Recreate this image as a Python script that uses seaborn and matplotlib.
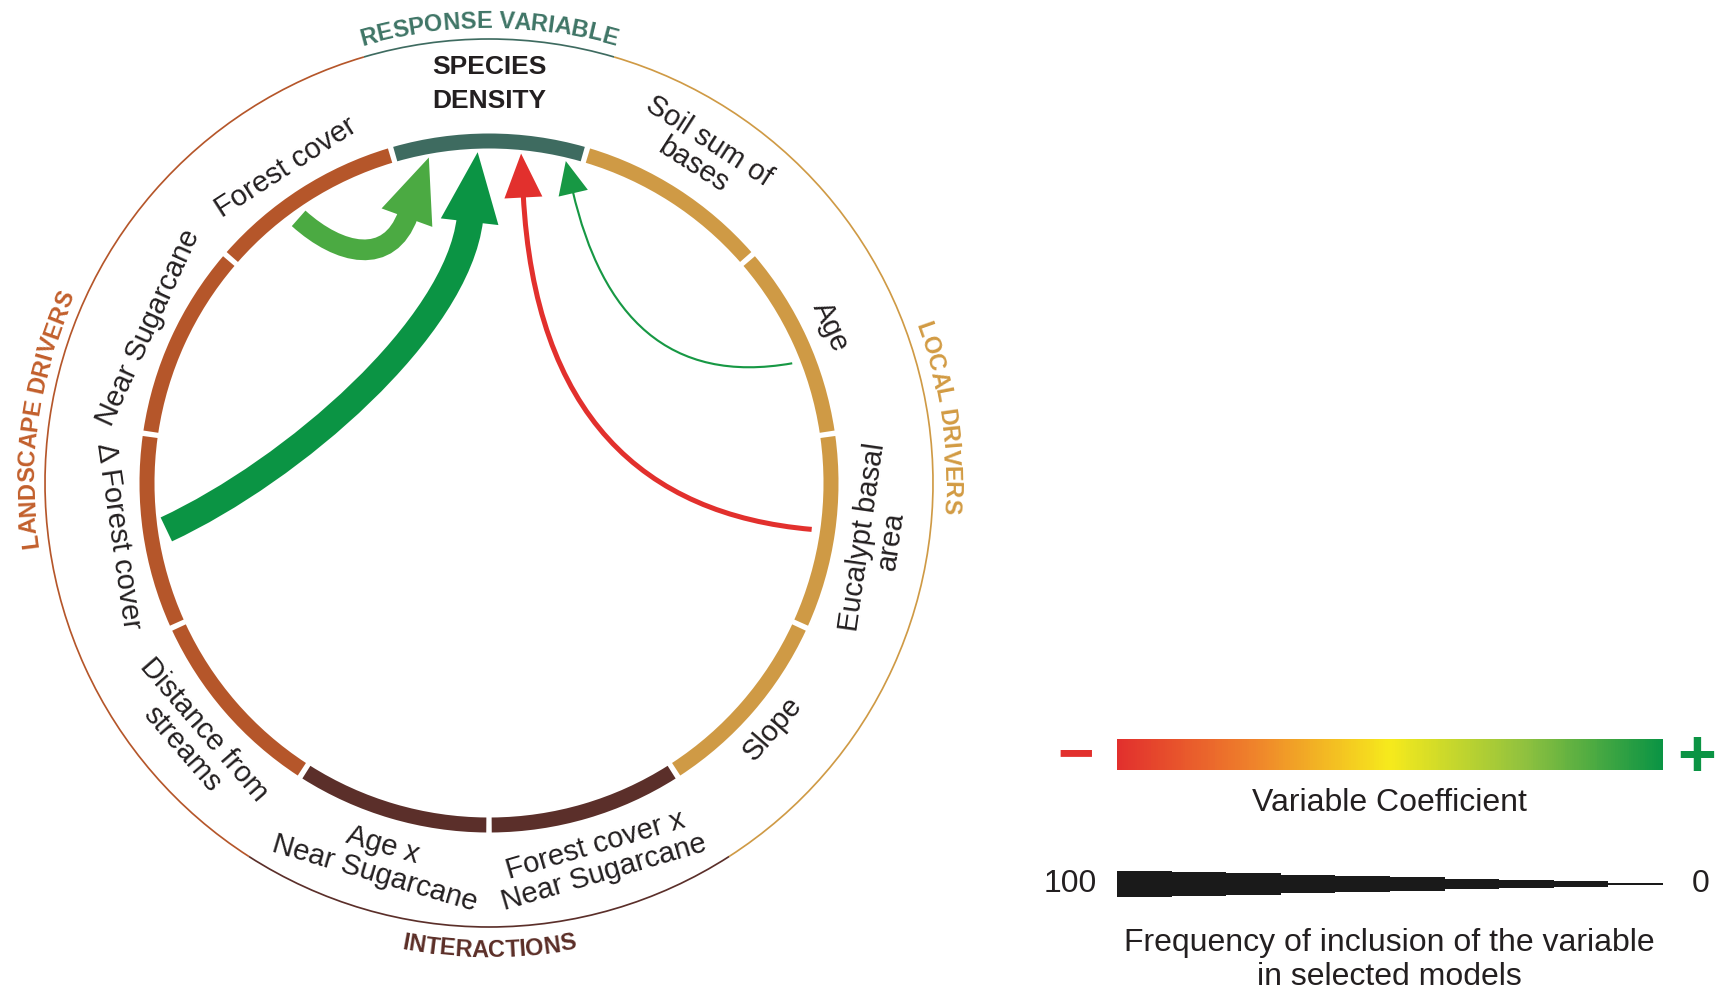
import numpy as np
import matplotlib
matplotlib.use("Agg")
import matplotlib.pyplot as plt
import seaborn as sns
from matplotlib.patches import Wedge, Arc, Polygon, PathPatch
from matplotlib.path import Path
from matplotlib.font_manager import FontProperties
from matplotlib.textpath import TextToPath

# ---------------- data ----------------
variables = ["SPECIES\nDENSITY", "Soil sum of\nbases", "Age", "Eucalypt basal\narea", "Slope",
             "Forest cover x\nNear Sugarcane", "Age x\nNear Sugarcane", "Distance from\nstreams",
             "Δ Forest cover", "Near Sugarcane", "Forest cover"]
var_groups = ["response", "local", "local", "local", "local", "interactions", "interactions",
              "landscape", "landscape", "landscape", "landscape"]
group_names = ["response", "local", "interactions", "landscape"]
group_labels = ["RESPONSE VARIABLE", "LOCAL DRIVERS", "INTERACTIONS", "LANDSCAPE DRIVERS"]

arrow_sources = ["Forest cover", "Δ Forest cover", "Eucalypt basal\narea", "Age"]
arrow_coefficients = [0.75, 1.0, -1.0, 0.95]     # sign / strength of the effect
arrow_frequency = [78, 100, 19, 8]               # % of selected models including the variable

legend_frequency = [100, 90, 80, 70, 60, 50, 40, 30, 20, 10]
legend_coef_key = np.linspace(-1, 1, 240)

# ---------------- styles ----------------
seg_colors = {"response": "#3e6b60", "local": "#cf9a45",
              "interactions": "#5b2f2a", "landscape": "#b5562a"}
group_text_colors = {"response": "#3f7566", "local": "#d29b43",
                     "interactions": "#5b2e27", "landscape": "#c25f2c"}
coef_cmap = sns.blend_palette(["#e2302d", "#ef832b", "#f6ea1c", "#8fc13f", "#0b9444"], as_cmap=True)
TXT = "#231f20"

arrow_style = {
    "Forest cover":        dict(src_off=3.0,  slot=0.18, start_dir=318, end_dir=70,  d0=55,  d3=55,  head_w=54, head_l=64),
    "Δ Forest cover":      dict(src_off=0.0,  slot=0.44, start_dir=25,  end_dir=83.4, d0=140, d3=110, head_w=58, head_l=70),
    "Eucalypt basal\narea": dict(src_off=0.0, slot=0.67, start_dir=175, end_dir=93,  d0=170, d3=220, head_w=38, head_l=44),
    "Age":                 dict(src_off=-3.0, slot=0.91, start_dir=190, end_dir=103, d0=125, d3=130, head_w=30, head_l=33),
}

sns.set_theme(style="white")
plt.rcParams["font.family"] = ["Liberation Sans", "DejaVu Sans"]

W_PX, H_PX, DPI = 1720, 993, 100
CX, CY = 489, 483
PX2PT = 72 / DPI
fig = plt.figure(figsize=(W_PX / DPI, H_PX / DPI), dpi=DPI)
ax = fig.add_axes([0, 0, 1, 1])
ax.set_xlim(-CX, W_PX - CX)
ax.set_ylim(-(H_PX - CY), CY)
ax.axis("off")

R_RING, RING_W, GAP_DEG = 342, 15, 0.9
R_OUT = 444
R_SRC, R_TIP = 326, 331

n = len(variables)
step = 360 / n
centers = {v: 90 - k * step for k, v in enumerate(variables)}

# inner ring segments
for k, v in enumerate(variables):
    c = centers[v]
    ax.add_patch(Wedge((0, 0), R_RING + RING_W / 2, c - step / 2 + GAP_DEG / 2,
                       c + step / 2 - GAP_DEG / 2, width=RING_W,
                       facecolor=seg_colors[var_groups[k]], edgecolor="none", zorder=2))

# curved text helper
t2p = TextToPath()


def advances(s, prop):
    prev = t2p.get_text_width_height_descent("I", prop, ismath=False)[0]
    out = []
    for i in range(len(s)):
        w = t2p.get_text_width_height_descent(s[:i + 1] + "I", prop, ismath=False)[0]
        out.append(w - prev)
        prev = w
    return np.array(out) / PX2PT


def curved_text(s, r, theta_c, fs, color, clockwise=True):
    prop = FontProperties(family="Liberation Sans", weight="bold", size=fs)
    adv = advances(s, prop)
    total = adv.sum()
    offs = np.cumsum(adv) - adv / 2 - total / 2
    for ch, o in zip(s, offs):
        if clockwise:
            phi = np.deg2rad(theta_c) - o / r
            rot = np.rad2deg(phi) - 90
        else:
            phi = np.deg2rad(theta_c) + o / r
            rot = np.rad2deg(phi) + 90
        ax.text(r * np.cos(phi), r * np.sin(phi), ch, fontproperties=prop, color=color,
                rotation=rot, rotation_mode="anchor", ha="center", va="baseline")


# outer ring and group labels
for g, lab in zip(group_names, group_labels):
    ks = [k for k, gg in enumerate(var_groups) if gg == g]
    hi = 90 - (min(ks) - 0.5) * step
    lo = 90 - (max(ks) + 0.5) * step
    ax.add_patch(Arc((0, 0), 2 * R_OUT, 2 * R_OUT, theta1=lo, theta2=hi,
                     color=seg_colors[g], lw=1.7 * PX2PT))
    mid = ((lo + hi) / 2) % 360
    if 200 < mid < 340:
        curved_text(lab, R_OUT + 30, mid, 17, group_text_colors[g], clockwise=False)
    else:
        curved_text(lab, R_OUT + 11, mid, 17, group_text_colors[g], clockwise=True)

# variable labels
for k, v in enumerate(variables):
    th = centers[v] % 360
    two = "\n" in v
    if k == 0:
        r, fs, wt, ls = 399, 19, "bold", 1.55
    else:
        r, fs, wt, ls = (392 if two else 375), 21, "normal", 1.05
    rot = th - 90 if 0 <= th <= 180 else th + 90 - 360
    t = np.deg2rad(th)
    ax.text(r * np.cos(t), r * np.sin(t), v, fontsize=fs, fontweight=wt, color=TXT,
            rotation=rot, rotation_mode="anchor", ha="center", va="center",
            multialignment="center", linespacing=ls)

# arrows
W_SCALE = 0.265  # px of line width per % frequency


def unit(deg):
    a = np.deg2rad(deg)
    return np.array([np.cos(a), np.sin(a)])


for src, coef, freq in zip(arrow_sources, arrow_coefficients, arrow_frequency):
    st = arrow_style[src]
    color = coef_cmap((coef + 1) / 2)
    P0 = R_SRC * unit(centers[src] + st["src_off"])
    tip = R_TIP * unit(90 + step / 2 - st["slot"] * step)
    u = unit(st["end_dir"])
    base = tip - st["head_l"] * u
    P3 = base + 3 * u
    P1 = P0 + st["d0"] * unit(st["start_dir"])
    P2 = P3 - st["d3"] * u
    path = Path([P0, P1, P2, P3], [Path.MOVETO, Path.CURVE4, Path.CURVE4, Path.CURVE4])
    ax.add_patch(PathPatch(path, fill=False, edgecolor=color, lw=W_SCALE * freq * PX2PT,
                           capstyle="butt", zorder=3))
    nrm = np.array([-u[1], u[0]])
    head = [tip, base + st["head_w"] / 2 * nrm, base - st["head_w"] / 2 * nrm]
    ax.add_patch(Polygon(head, closed=True, facecolor=color, edgecolor="none", zorder=4))

# ---------------- legend ----------------
LEG_X0, LEG_X1 = 1117, 1663
lax = fig.add_axes([LEG_X0 / W_PX, 1 - 770 / H_PX, (LEG_X1 - LEG_X0) / W_PX, 31 / H_PX])
sns.heatmap(legend_coef_key[None, :], cmap=coef_cmap, vmin=-1, vmax=1, cbar=False,
            xticklabels=False, yticklabels=False, ax=lax)
lax.axis("off")

ax.text(1076 - CX, CY - 773, "\u2212", fontsize=45, fontweight="bold", color="#e2302d",
        ha="center", va="baseline")
ax.text(1697 - CX, CY - 776, "+", fontsize=48, fontweight="bold", color="#0b9444",
        ha="center", va="baseline")
ax.text(1389 - CX, CY - 803, "Variable Coefficient", fontsize=23, color=TXT,
        ha="center", va="center")

wy = CY - 884
sw = (LEG_X1 - LEG_X0) / len(legend_frequency)
for i, f in enumerate(legend_frequency):
    h = W_SCALE * f
    ax.bar(LEG_X0 - CX + i * sw, h, width=sw, bottom=wy - h / 2, align="edge",
           color="#1a1a1a", edgecolor="none")
ax.text(1070 - CX, wy, "100", fontsize=23, color=TXT, ha="center", va="center")
ax.text(1701 - CX, wy, "0", fontsize=23, color=TXT, ha="center", va="center")
ax.text(1389 - CX, CY - 960, "Frequency of inclusion of the variable\nin selected models",
        fontsize=23, color=TXT, ha="center", va="center", linespacing=1.15)

ax.set_xlim(-CX, W_PX - CX)
ax.set_ylim(-(H_PX - CY), CY)
fig.savefig("out.png", dpi=DPI)
